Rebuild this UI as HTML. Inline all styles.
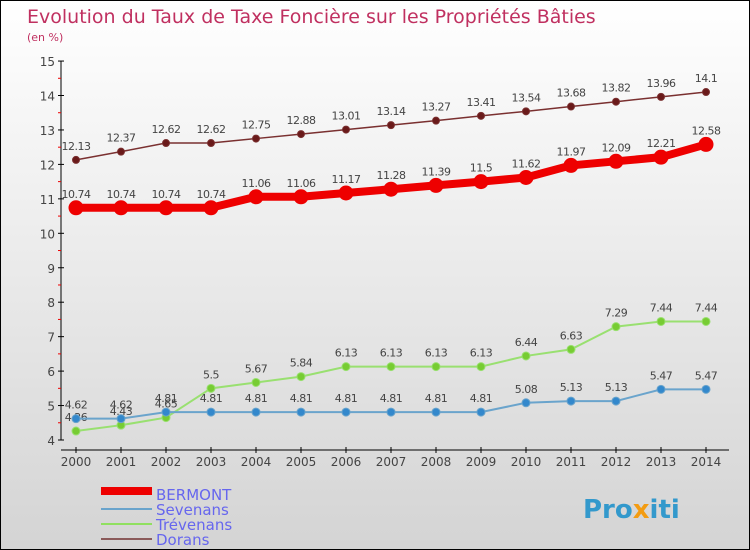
<!DOCTYPE html>
<html><head><meta charset="utf-8"><style>
body{margin:0}
#c{width:750px;height:550px;position:relative;box-sizing:border-box;border:1px solid #000;background:linear-gradient(#fff,#d4d4d4);font-family:"DejaVu Sans","Liberation Sans",sans-serif}
</style></head><body>
<div id="c">
<svg id="s" width="748" height="548" style="position:absolute;left:0;top:0">
<text x="26" y="22" font-size="19" fill="#c03060">Evolution du Taux de Taxe Foncière sur les Propriétés Bâties</text>
<text x="26" y="40" font-size="11" fill="#c03060">(en %)</text>
<g id="g"></g>
<g>
<rect x="100" y="486" width="51" height="8" fill="#e00"/>
<text x="155" y="499" font-size="15" fill="#6666ee">BERMONT</text>
<rect x="100" y="507" width="51" height="2" fill="#6aa4cc"/>
<text x="155" y="514" font-size="15" fill="#6666ee">Sevenans</text>
<rect x="100" y="522" width="51" height="2" fill="#90e060"/>
<text x="155" y="529" font-size="15" fill="#6666ee">Trévenans</text>
<rect x="100" y="537" width="51" height="2" fill="#8a5a5a"/>
<text x="155" y="544" font-size="15" fill="#6666ee">Dorans</text>
</g>
<text x="582" y="517" font-size="26" font-weight="bold" fill="#3399cc">Pro<tspan fill="#f39c12">x</tspan>iti</text>
</svg></div>
<script>
const years=[2000,2001,2002,2003,2004,2005,2006,2007,2008,2009,2010,2011,2012,2013,2014];
const yTicks=[4,5,6,7,8,9,10,11,12,13,14,15];
const bermont=[10.74,10.74,10.74,10.74,11.06,11.06,11.17,11.28,11.39,11.5,11.62,11.97,12.09,12.21,12.58];
const sevenans=[4.62,4.62,4.81,4.81,4.81,4.81,4.81,4.81,4.81,4.81,5.08,5.13,5.13,5.47,5.47];
const trevenans=[4.26,4.43,4.65,5.5,5.67,5.84,6.13,6.13,6.13,6.13,6.44,6.63,7.29,7.44,7.44];
const dorans=[12.13,12.37,12.62,12.62,12.75,12.88,13.01,13.14,13.27,13.41,13.54,13.68,13.82,13.96,14.1];
const g=document.getElementById('g');const NS='http://www.w3.org/2000/svg';
const X=i=>75+i*45, Y=v=>439-(v-4)*34.45;
function mk(t,a){const e=document.createElementNS(NS,t);for(const k in a)e.setAttribute(k,a[k]);g.appendChild(e);return e;}
let e=mk('line',{x1:60,y1:Y(15),x2:60,y2:Y(4),stroke:'#000'});


e=mk('line',{x1:60,y1:449,x2:728,y2:449,stroke:'#000'});


yTicks.forEach(v=>{mk('line',{x1:57,x2:63,y1:Y(v),y2:Y(v),stroke:'#000'});
if(v<15)mk('line',{x1:57,x2:60,y1:Y(v+.5),y2:Y(v+.5),stroke:'#e00'});
const t=mk('text',{x:54,y:Y(v)+5,'font-size':12,fill:'#444','text-anchor':'end'});t.textContent=v;

});
years.forEach((y,i)=>{mk('line',{x1:X(i),x2:X(i),y1:446,y2:452,stroke:'#000'});
const t=mk('text',{x:X(i),y:465,'font-size':12,fill:'#444','text-anchor':'middle'});t.textContent=y;

});
function series(d,col,dot,w,r,name,lab){
const l=mk('polyline',{points:d.map((v,i)=>X(i)+','+Y(v)).join(' '),fill:'none',stroke:col,'stroke-width':w});


d.forEach((v,i)=>{const c=mk('circle',{cx:X(i),cy:Y(v),r:r,fill:dot,stroke:col,'stroke-width':1});


const t=mk('text',{x:X(i),y:Y(v)-10,'font-size':11,fill:'#444','text-anchor':'middle','letter-spacing':'-0.5'});t.textContent=v;

});}
series(dorans,'#7a3030','#6a1a1a',1.5,3.5,'dorans');
series(trevenans,'#99e070','#77cc33',2,4,'trevenans');
series(sevenans,'#6aa4cc','#3388cc',2,4,'sevenans');
series(bermont,'#ee0000','#ee0000',8,7,'bermont');
</script>
</body></html>
